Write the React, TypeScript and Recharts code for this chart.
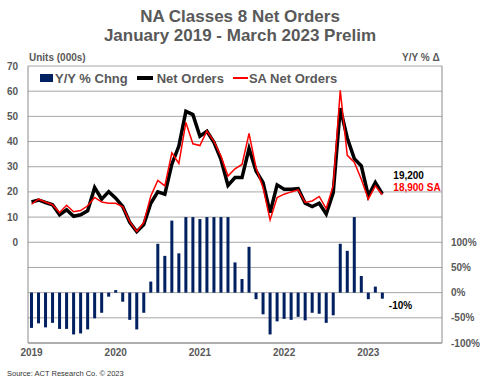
import React from 'react';
import {
  ComposedChart,
  Bar,
  Line,
  XAxis,
  YAxis,
  CartesianGrid,
  Legend,
} from 'recharts';

const FONT = '"Liberation Sans", Arial, sans-serif';
const GRAY_TEXT = '#595959';
const GRID = '#a6a6a6';
const NAVY = '#002060';

// x axis runs Jan 2019 .. Nov 2023, data stops at Mar 2023
const years = ['2019', '2020', '2021', '2022', '2023'];
const monthsShown = 59;

// Net orders, units (000s)
const netOrders = [
  16.0, 16.8, 15.8, 14.9, 10.9, 12.9, 10.3, 10.9, 12.5, 21.7, 17.1, 20.1,
  17.5, 14.2, 7.9, 4.2, 7.0, 15.5, 20.0, 19.1, 31.0, 38.2, 52.0, 50.7,
  42.1, 44.1, 39.7, 32.9, 22.6, 25.7, 25.7, 37.2, 28.3, 23.7, 11.8, 22.8,
  21.1, 21.1, 21.3, 15.5, 14.2, 15.5, 11.2, 19.7, 53.3, 41.4, 33.2, 30.3,
  18.4, 23.7, 19.2,
];

// Seasonally adjusted net orders
const saNetOrders = [
  15.1, 17.1, 16.0, 14.9, 11.8, 14.7, 12.1, 12.6, 14.5, 17.8, 16.0, 15.5,
  15.5, 14.1, 8.2, 4.3, 7.9, 18.4, 24.6, 22.4, 35.5, 31.3, 47.6, 39.1,
  38.4, 44.2, 40.1, 34.2, 26.3, 29.2, 30.9, 43.2, 29.6, 21.7, 8.9, 17.8,
  19.1, 20.0, 20.8, 15.8, 16.4, 18.2, 13.4, 22.6, 60.3, 34.5, 31.8, 25.0,
  17.1, 22.4, 18.9,
];

// Y/Y % change (tall bars are cut off in the original at ~150%)
const yoyChange = [
  -70, -61, -69, -60, -72, -72, -83, -81, -73, -51, -40, -8,
  5, -18, -54, -73, -40, 22, 97, 73, 143, 78, 150, 150,
  146, 150, 150, 150, 150, 60, 27, 91, -13, -43, -83, -57,
  -52, -54, -48, -55, -40, -42, -60, -45, 97, 83, 150, 33,
  -13, 12, -12,
];

const leftTicks = [-40, -30, -20, -10, 0, 10, 20, 30, 40, 50, 60, 70];
const rightTicks = [-100, -50, 0, 50, 100];

const netLabel = '19,200';
const saLabel = '18,900 SA';
const yoyLabel = '-10%';

const monthKeys: string[] = [];
for (let i = 0; i < monthsShown; i++) {
  const y = 2019 + Math.floor(i / 12);
  const m = (i % 12) + 1;
  monthKeys.push(`${y}-${m.toString().padStart(2, '0')}`);
}
const yearTicks = years.map((y) => `${y}-01`);

const data = monthKeys.map((month, i) => ({
  month,
  net: netOrders[i],
  sa: saNetOrders[i],
  yoy: yoyChange[i],
}));

const lastIdx = netOrders.length - 1;

const labelStyle = {
  fontFamily: FONT,
  fontSize: 10,
  fontWeight: 'bold' as const,
};

function LegendBox() {
  return (
    <div
      style={{
        display: 'flex',
        alignItems: 'center',
        height: 16,
        fontFamily: FONT,
        fontSize: 13,
        fontWeight: 'bold',
        color: GRAY_TEXT,
        whiteSpace: 'nowrap',
      }}
    >
      <span style={{ width: 13, height: 8, background: NAVY, marginRight: 2 }} />
      <span>Y/Y % Chng</span>
      <span style={{ width: 16, height: 4, background: '#000', marginLeft: 9, marginRight: 4 }} />
      <span>Net Orders</span>
      <span style={{ width: 15, height: 2, background: '#ff0000', marginLeft: 9, marginRight: 1 }} />
      <span>SA Net Orders</span>
    </div>
  );
}

export default function App() {
  return (
    <div
      style={{
        position: 'absolute',
        left: 0,
        top: 0,
        width: 480,
        height: 384,
        background: '#fff',
        fontFamily: FONT,
      }}
    >
      <div
        style={{
          position: 'absolute',
          top: 7,
          width: 480,
          textAlign: 'center',
          fontSize: 17,
          lineHeight: '19px',
          fontWeight: 'bold',
          color: GRAY_TEXT,
        }}
      >
        NA Classes 8 Net Orders
        <br />
        January 2019 - March 2023 Prelim
      </div>
      <div style={{ position: 'absolute', left: 29, top: 52, fontSize: 10, lineHeight: '12px', fontWeight: 'bold', color: GRAY_TEXT }}>
        Units (000s)
      </div>
      <div style={{ position: 'absolute', left: 402, top: 52, fontSize: 10, lineHeight: '12px', fontWeight: 'bold', color: GRAY_TEXT }}>
        Y/Y % Δ
      </div>

      <ComposedChart
        width={480}
        height={384}
        data={data}
        margin={{ top: 66, right: 0, bottom: 11, left: 0 }}
      >
        <CartesianGrid yAxisId="left" vertical={false} stroke={GRID} />
        <XAxis
          dataKey="month"
          ticks={yearTicks}
          interval={0}
          tickFormatter={(m: string) => m.slice(0, 4)}
          tickLine={false}
          axisLine={{ stroke: '#8c8c8c' }}
          tick={{ fill: GRAY_TEXT, fontSize: 10, fontWeight: 'bold', fontFamily: FONT }}
          tickMargin={0}
          height={30}
        />
        <YAxis
          yAxisId="left"
          domain={[-40, 70]}
          ticks={leftTicks}
          interval={0}
          tickFormatter={(v: number) => (v < 0 ? '' : String(v))}
          tickLine={false}
          axisLine={{ stroke: '#8c8c8c' }}
          tick={{ fill: GRAY_TEXT, fontSize: 10, fontWeight: 'bold', fontFamily: FONT }}
          tickMargin={4}
          width={28}
        />
        <YAxis
          yAxisId="right"
          orientation="right"
          domain={[-100, 450]}
          ticks={rightTicks}
          interval={0}
          tickFormatter={(v: number) => `${v}%`}
          tickLine={false}
          axisLine={{ stroke: '#8c8c8c' }}
          tick={{ fill: GRAY_TEXT, fontSize: 10, fontWeight: 'bold', fontFamily: FONT }}
          tickMargin={3}
          width={38}
        />
        <Legend
          verticalAlign="middle"
          layout="horizontal"
          wrapperStyle={{ top: 70, left: 40, width: 'auto' }}
          content={() => <LegendBox />}
        />
        <Bar
          yAxisId="right"
          dataKey="yoy"
          barSize={3}
          fill={NAVY}
          isAnimationActive={false}
          shape={(p: any) => {
            if (p.height == null || p.y == null) return <g />;
            const top = Math.min(p.y, p.y + p.height);
            const h = Math.abs(p.height);
            return (
              <g>
                <rect x={p.x} y={top} width={p.width} height={h} fill={NAVY} />
                {p.index === lastIdx && (
                  <text x={p.x + p.width + 5} y={top + h + 10} fill="#000" {...labelStyle}>
                    {yoyLabel}
                  </text>
                )}
              </g>
            );
          }}
        />
        <Line
          yAxisId="left"
          type="linear"
          dataKey="net"
          stroke="#000"
          strokeWidth={3.5}
          isAnimationActive={false}
          activeDot={false}
          dot={(p: any) =>
            p.index === lastIdx && p.cy != null ? (
              <text key="net-label" x={p.cx + 11} y={p.cy - 15} fill="#000" {...labelStyle}>
                {netLabel}
              </text>
            ) : (
              <g key={`n${p.index}`} />
            )
          }
        />
        <Line
          yAxisId="left"
          type="linear"
          dataKey="sa"
          stroke="#ff0000"
          strokeWidth={1.5}
          isAnimationActive={false}
          activeDot={false}
          dot={(p: any) =>
            p.index === lastIdx && p.cy != null ? (
              <text key="sa-label" x={p.cx + 11} y={p.cy - 4} fill="#ff0000" {...labelStyle}>
                {saLabel}
              </text>
            ) : (
              <g key={`s${p.index}`} />
            )
          }
        />
      </ComposedChart>

      <div style={{ position: 'absolute', left: 7, top: 369, fontSize: 7.5, lineHeight: '10px', color: '#333' }}>
        Source: ACT Research Co. © 2023
      </div>
    </div>
  );
}
